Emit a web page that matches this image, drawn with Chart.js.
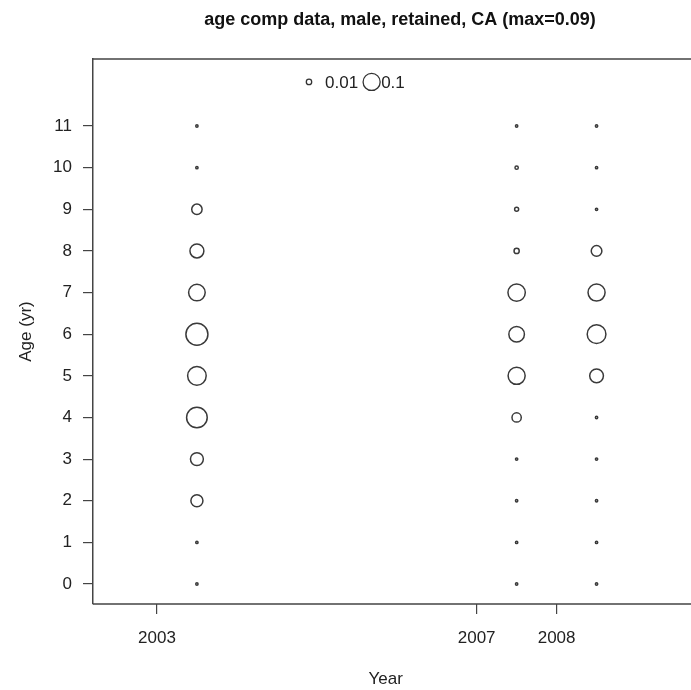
<!DOCTYPE html>
<html>
<head>
<meta charset="utf-8">
<script src="https://cdn.jsdelivr.net/npm/chart.js@4.4.1/dist/chart.umd.min.js"></script>
<style>
  html, body { margin: 0; padding: 0; background: #fff; overflow: hidden; }
  #wrap { width: 691px; height: 690px; position: relative; }
</style>
</head>
<body>
<div id="wrap"><canvas id="bubbles"></canvas></div>
<script>
// Data
var years = [2003.5, 2007.5, 2008.5];
var ages = [0, 1, 2, 3, 4, 5, 6, 7, 8, 9, 10, 11];
var comp2003 = [0.001, 0.001, 0.027, 0.031, 0.079, 0.064, 0.09, 0.051, 0.036, 0.02, 0.001, 0.001];
var comp2007 = [0.001, 0.001, 0.001, 0.001, 0.016, 0.054, 0.045, 0.056, 0.005, 0.003, 0.002, 0.001];
var comp2008 = [0.001, 0.001, 0.001, 0.001, 0.001, 0.035, 0.065, 0.054, 0.021, 0.001, 0.001, 0.001];
var yearTicks = [2003, 2007, 2008];
var ageTicks = [0, 1, 2, 3, 4, 5, 6, 7, 8, 9, 10, 11];
var legendVals = [0.01, 0.1];
var titleText = 'age comp data, male, retained, CA (max=0.09)';

var bubbleScale = 36.7;   // radius = scale * sqrt(proportion)
var legendScale = 27;
var plotRight = 707;      // the plot box runs past the right edge of the picture

var comps = [comp2003, comp2007, comp2008];
var points = [];
years.forEach(function(yr, i) {
    ages.forEach(function(a, j) {
        points.push({ x: yr, y: a, r: bubbleScale * Math.sqrt(comps[i][j]) });
    });
});

var font = "'Liberation Sans', Arial, sans-serif";

// box top/bottom edges, title centred over the plot region, size legend
var extras = {
    id: 'extras',
    afterDraw: function(chart) {
        var ctx = chart.ctx;
        var a = chart.chartArea;
        ctx.save();
        ctx.strokeStyle = '#444';
        ctx.lineWidth = 1.5;
        ctx.beginPath();
        ctx.moveTo(a.left, a.top);
        ctx.lineTo(chart.width, a.top);
        ctx.moveTo(a.left, a.bottom);
        ctx.lineTo(chart.width, a.bottom);
        ctx.stroke();

        ctx.fillStyle = '#111';
        ctx.font = 'bold 18px ' + font;
        ctx.textAlign = 'center';
        ctx.textBaseline = 'middle';
        ctx.fillText(titleText, (a.left + plotRight) / 2, 20);

        var ly = chart.scales.y.getPixelForValue(12.06);
        var lx = 309;
        ctx.font = '17px ' + font;
        ctx.fillStyle = '#222';
        ctx.textAlign = 'left';
        legendVals.forEach(function(v, i) {
            var r = legendScale * Math.sqrt(v);
            if (i > 0) lx += r;
            ctx.beginPath();
            ctx.arc(lx, ly, r, 0, Math.PI * 2);
            ctx.lineWidth = 1.3;
            ctx.strokeStyle = '#333';
            ctx.stroke();
            var tx = lx + (i === 0 ? 16 : r + 1);
            ctx.fillText(String(v), tx, ly + 1);
            lx = tx + ctx.measureText(String(v)).width + 5;
        });
        ctx.restore();
    }
};

var ctx = document.getElementById('bubbles');
var chart = new Chart(ctx, {
    type: 'bubble',
    data: {
        datasets: [{
            data: points,
            backgroundColor: 'rgba(0,0,0,0)',
            borderColor: '#3a3a3a',
            borderWidth: 1.5,
            hoverRadius: 0
        }]
    },
    options: {
        responsive: true,
        maintainAspectRatio: false,
        animation: false,
        events: [],
        layout: { padding: { top: 59 } },
        plugins: {
            legend: { display: false },
            tooltip: { enabled: false },
            title: { display: false }
        },
        scales: {
            x: {
                type: 'linear',
                min: 2002.2,
                max: 2009.525,
                afterBuildTicks: function(s) { s.ticks = yearTicks.map(function(v) { return { value: v }; }); },
                afterFit: function(s) { s.height = 86; },
                ticks: {
                    color: '#222',
                    font: { family: font, size: 17 },
                    padding: 14,
                    maxRotation: 0,
                    callback: function(v) { return String(v); }
                },
                grid: { drawOnChartArea: false, tickLength: 10, color: '#444', lineWidth: 1.2 },
                border: { display: false },
                title: {
                    display: true,
                    text: 'Year',
                    color: '#222',
                    font: { family: font, size: 17 },
                    padding: { top: 0, bottom: 0 }
                }
            },
            y: {
                type: 'linear',
                min: -0.48,
                max: 12.61,
                afterBuildTicks: function(s) { s.ticks = ageTicks.map(function(v) { return { value: v }; }); },
                afterFit: function(s) { s.width = 93; },
                ticks: {
                    color: '#222',
                    font: { family: font, size: 17 },
                    padding: 11
                },
                grid: { drawOnChartArea: false, tickLength: 10, color: '#444', lineWidth: 1.2 },
                border: { display: true, color: '#444', width: 1.5 },
                title: {
                    display: true,
                    text: 'Age (yr)',
                    color: '#222',
                    font: { family: font, size: 17 },
                    padding: { top: 16, bottom: 0 }
                }
            }
        }
    },
    plugins: [extras]
});
</script>
</body>
</html>
